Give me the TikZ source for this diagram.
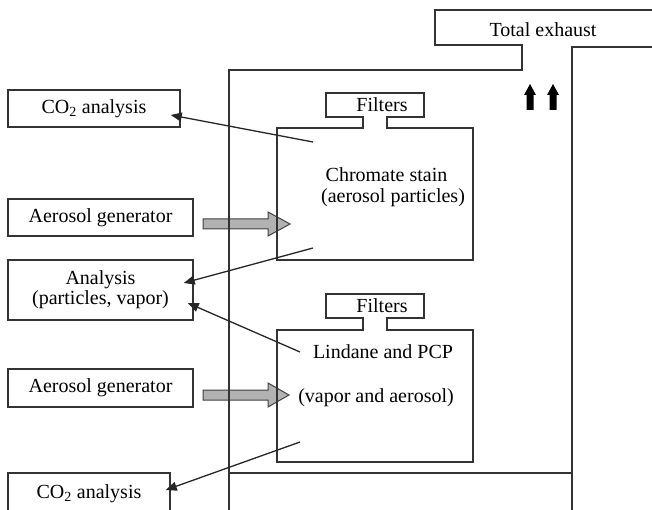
\documentclass[tikz,border=0pt]{standalone}
\usepackage{fontspec}
\setmainfont{Liberation Serif}
\usetikzlibrary{arrows.meta,calc}
\begin{document}
\begin{tikzpicture}[x=1pt,y=-1pt,
  font=\fontsize{20}{23}\selectfont,
  box/.style={draw=black!80, line width=1.5pt, inner sep=0pt, align=center},
  wall/.style={draw=black!80, line width=1.4pt},
  conn/.style={draw=black!85, line width=1.3pt, -{Triangle[length=11pt,width=9pt]}},
  feed/.style={fill=gray!60, draw=black!75, line width=1pt},
  upflow/.style={fill=black}]
\useasboundingbox (0,0) rectangle (652,510);
\clip (0,0) rectangle (652,510);

% left column boxes
\node[box, minimum width=172pt, minimum height=37pt] (co2a) at (94,108.5) {CO\textsubscript{2} analysis};
\node[box, minimum width=185pt, minimum height=37pt] (gen1) at (100.5,217.5) {Aerosol generator};
\node[box, minimum width=185pt, minimum height=60pt] (anal) at (100.5,290) {Analysis\\[-3pt](particles, vapor)};
\node[box, minimum width=185pt, minimum height=38pt] (gen2) at (100.5,388) {Aerosol generator};
\node[box, minimum width=162pt, minimum height=42pt] (co2b) at (89,494) {CO\textsubscript{2} analysis};

% feed arrows
\filldraw[feed] (203,219) -- (268,219) -- (268,212) -- (290,224) -- (268,236) -- (268,229) -- (203,229) -- cycle;
\filldraw[feed] (203,390) -- (268,390) -- (268,383) -- (289,395) -- (268,407) -- (268,400) -- (203,400) -- cycle;

% enclosure
\draw[wall] (229,515) -- (229,70) -- (522,70) -- (522,45) -- (435,45) -- (435,10) -- (655,10);
\draw[wall] (655,47) -- (572,47) -- (572,515);
\draw[wall] (229,473) -- (572,473);
\node (tot) at (543,30) {Total exhaust};

% up arrows
\fill[upflow] (526.5,110) -- (526.5,95) -- (524,95) -- (530,84) -- (536,95) -- (533.5,95) -- (533.5,110) -- cycle;
\fill[upflow] (549.5,110) -- (549.5,95) -- (547,95) -- (553,84) -- (559,95) -- (556.5,95) -- (556.5,110) -- cycle;

% chamber 1
\draw[wall] (363,128) -- (363,117) -- (326,117) -- (326,93) -- (424,93) -- (424,117) -- (387,117) -- (387,128) -- (473,128) -- (473,260) -- (277,260) -- (277,128) -- cycle;
\node (f1) at (382,105) {Filters};
\node (cs1) at (386.5,175) {Chromate stain};
\node (cs2) at (393,198) {(aerosol particles)};

% chamber 2
\draw[wall] (363,330) -- (363,318) -- (326,318) -- (326,294) -- (424,294) -- (424,318) -- (387,318) -- (387,330) -- (473,330) -- (473,462) -- (277,462) -- (277,330) -- cycle;
\node (f2) at (382,306) {Filters};
\node (ld1) at (383,352) {Lindane and PCP};
\node (ld2) at (376,398) {(vapor and aerosol)};

% connectors
\coordinate (s1) at (313,142);
\coordinate (s2) at (313,248);
\coordinate (s3) at (300,352);
\coordinate (s4) at (300,442);
\draw[conn] (s1) -- ($(co2a.east)+(-10,6.5)$);
\draw[conn] (s2) -- ($(anal.east)+(-10,-7)$);
\draw[conn] (s3) -- ($(anal.east)+(-6,13)$);
\draw[conn] (s4) -- ($(co2b.east)+(-5,-4)$);
\end{tikzpicture}
\end{document}
